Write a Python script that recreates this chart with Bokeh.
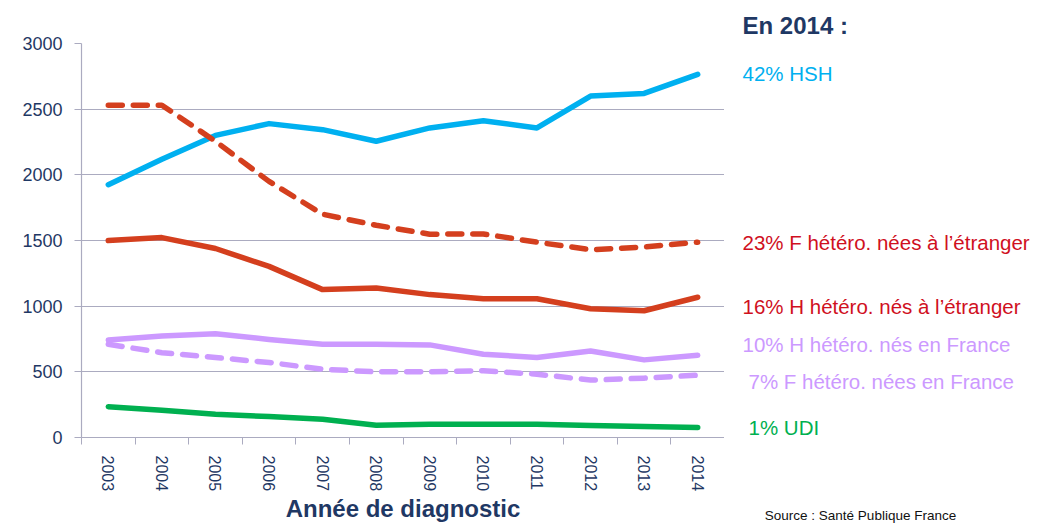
from bokeh.plotting import figure
from bokeh.layouts import row
from bokeh.models import FixedTicker, Label, Range1d, Title
from bokeh.embed import file_html
from bokeh.resources import INLINE

# ---- data ----
years = list(range(2003, 2015))
hsh = [1925, 2118, 2300, 2390, 2344, 2256, 2357, 2412, 2357, 2600, 2620, 2765]
f_hetero_etr = [2530, 2530, 2256, 1950, 1700, 1616, 1548, 1550, 1487, 1430, 1450, 1487]
h_hetero_etr = [1500, 1522, 1439, 1303, 1126, 1139, 1088, 1056, 1056, 980, 965, 1068]
h_hetero_fr = [742, 773, 790, 747, 710, 710, 705, 634, 609, 659, 591, 626]
f_hetero_fr = [710, 646, 609, 571, 520, 500, 500, 508, 482, 437, 452, 475]
udi = [235, 207, 177, 159, 139, 93, 101, 101, 101, 91, 83, 76]
y_ticks = [0, 500, 1000, 1500, 2000, 2500, 3000]

title_right = "En 2014 :"
series_labels = [
    "42% HSH",
    "23% F hétéro. nées à l’étranger",
    "16% H hétéro. nés à l’étranger",
    "10% H hétéro. nés en France",
    "7% F hétéro. nées en France",
    "1% UDI",
]
x_title = "Année de diagnostic"
source = "Source : Santé Publique France"

# ---- styles ----
NAVY = "#1F3864"
GRID = "#ABABC0"
BLUE = "#00B0F0"
RED_LINE = "#D43F1E"
RED_TEXT = "#D0101E"
VIOLET = "#CC99FF"
GREEN = "#00B050"
FONT = "Liberation Sans"
DASH = "14 11"

yr = Range1d(0, 3000)

p = figure(width=724, height=525, output_backend="svg", toolbar_location=None,
           x_range=Range1d(2002.5, 2014.5), y_range=yr,
           min_border_left=81, min_border_right=0, min_border_top=43,
           min_border_bottom=88)
p.outline_line_color = None
p.background_fill_color = "white"
p.border_fill_color = "white"

# grid
p.xgrid.visible = False
p.ygrid.grid_line_color = GRID
p.ygrid.grid_line_width = 1.2
p.ygrid.ticker = FixedTicker(ticks=y_ticks)

# y axis
p.yaxis.ticker = FixedTicker(ticks=y_ticks)
p.yaxis.axis_line_color = GRID
p.yaxis.axis_line_width = 1.2
p.yaxis.major_tick_line_color = GRID
p.yaxis.major_tick_out = 7
p.yaxis.major_tick_in = 0
p.yaxis.minor_tick_line_color = None
p.yaxis.major_label_text_font = FONT
p.yaxis.major_label_text_font_size = "18px"
p.yaxis.major_label_text_color = NAVY
p.yaxis.major_label_standoff = 12

# x axis
p.xaxis.ticker = FixedTicker(ticks=years, minor_ticks=[y - 0.5 for y in years] + [2014.5])
p.xaxis.axis_line_color = GRID
p.xaxis.axis_line_width = 1.2
p.xaxis.major_tick_out = 0
p.xaxis.major_tick_in = 0
p.xaxis.major_tick_line_color = None
p.xaxis.minor_tick_line_color = GRID
p.xaxis.minor_tick_out = 7
p.xaxis.minor_tick_in = 0
p.xaxis.major_label_orientation = "vertical"
p.xaxis.major_label_text_font = FONT
p.xaxis.major_label_text_font_size = "16px"
p.xaxis.major_label_text_color = NAVY
p.xaxis.major_label_standoff = 11
p.xaxis.axis_label = x_title
p.xaxis.axis_label_text_font = FONT
p.xaxis.axis_label_text_font_size = "24px"
p.xaxis.axis_label_text_font_style = "bold"
p.xaxis.axis_label_text_color = NAVY
p.xaxis.axis_label_standoff = 1

# lines
common = dict(line_width=5.5, line_cap="round", line_join="round")
p.line(years, f_hetero_fr, line_color=VIOLET, line_dash=DASH, **common)
p.line(years, h_hetero_fr, line_color=VIOLET, **common)
p.line(years, udi, line_color=GREEN, **common)
p.line(years, h_hetero_etr, line_color=RED_LINE, **common)
p.line(years, hsh, line_color=BLUE, **common)
p.line(years, f_hetero_etr, line_color=RED_LINE, line_dash=DASH, **common)

# right-hand panel sharing the y scale; x in pixels from the panel's left
r = figure(width=322, height=525, output_backend="svg", toolbar_location=None,
           x_range=Range1d(0, 322), y_range=yr,
           min_border_left=0, min_border_right=0,
           min_border_top=43, min_border_bottom=88)
r.yaxis.visible = False
r.grid.visible = False
r.outline_line_color = None
r.background_fill_color = "white"
r.border_fill_color = "white"

# source note, carried by the panel's bottom axis (no line, no ticks)
src_x = 136
r.xaxis.ticker = FixedTicker(ticks=[src_x])
r.xaxis.major_label_overrides = {src_x: source}
r.xaxis.axis_line_color = None
r.xaxis.major_tick_line_color = None
r.xaxis.minor_tick_line_color = None
r.xaxis.major_tick_out = 0
r.xaxis.major_tick_in = 0
r.xaxis.major_label_standoff = 70
r.xaxis.major_label_text_font = FONT
r.xaxis.major_label_text_font_size = "13.5px"
r.xaxis.major_label_text_color = "#111111"

label_specs = [
    (18, 2771, series_labels[0], BLUE),
    (18, 1485, series_labels[1], RED_TEXT),
    (18, 997, series_labels[2], RED_TEXT),
    (18, 708, series_labels[3], VIOLET),
    (24, 426, series_labels[4], VIOLET),
    (24, 76, series_labels[5], GREEN),
]
for lx, ly, txt, col in label_specs:
    r.add_layout(Label(x=lx, y=ly, text=txt, text_font=FONT,
                       text_font_size="20.5px", text_color=col,
                       text_baseline="middle"))

r.add_layout(Title(text=title_right, align="left", offset=18,
                   text_font=FONT, text_font_size="24px",
                   text_font_style="bold", text_color=NAVY,
                   standoff=10), "above")

layout = row(p, r, spacing=0)
open("out.html", "w").write(file_html(layout, INLINE))
